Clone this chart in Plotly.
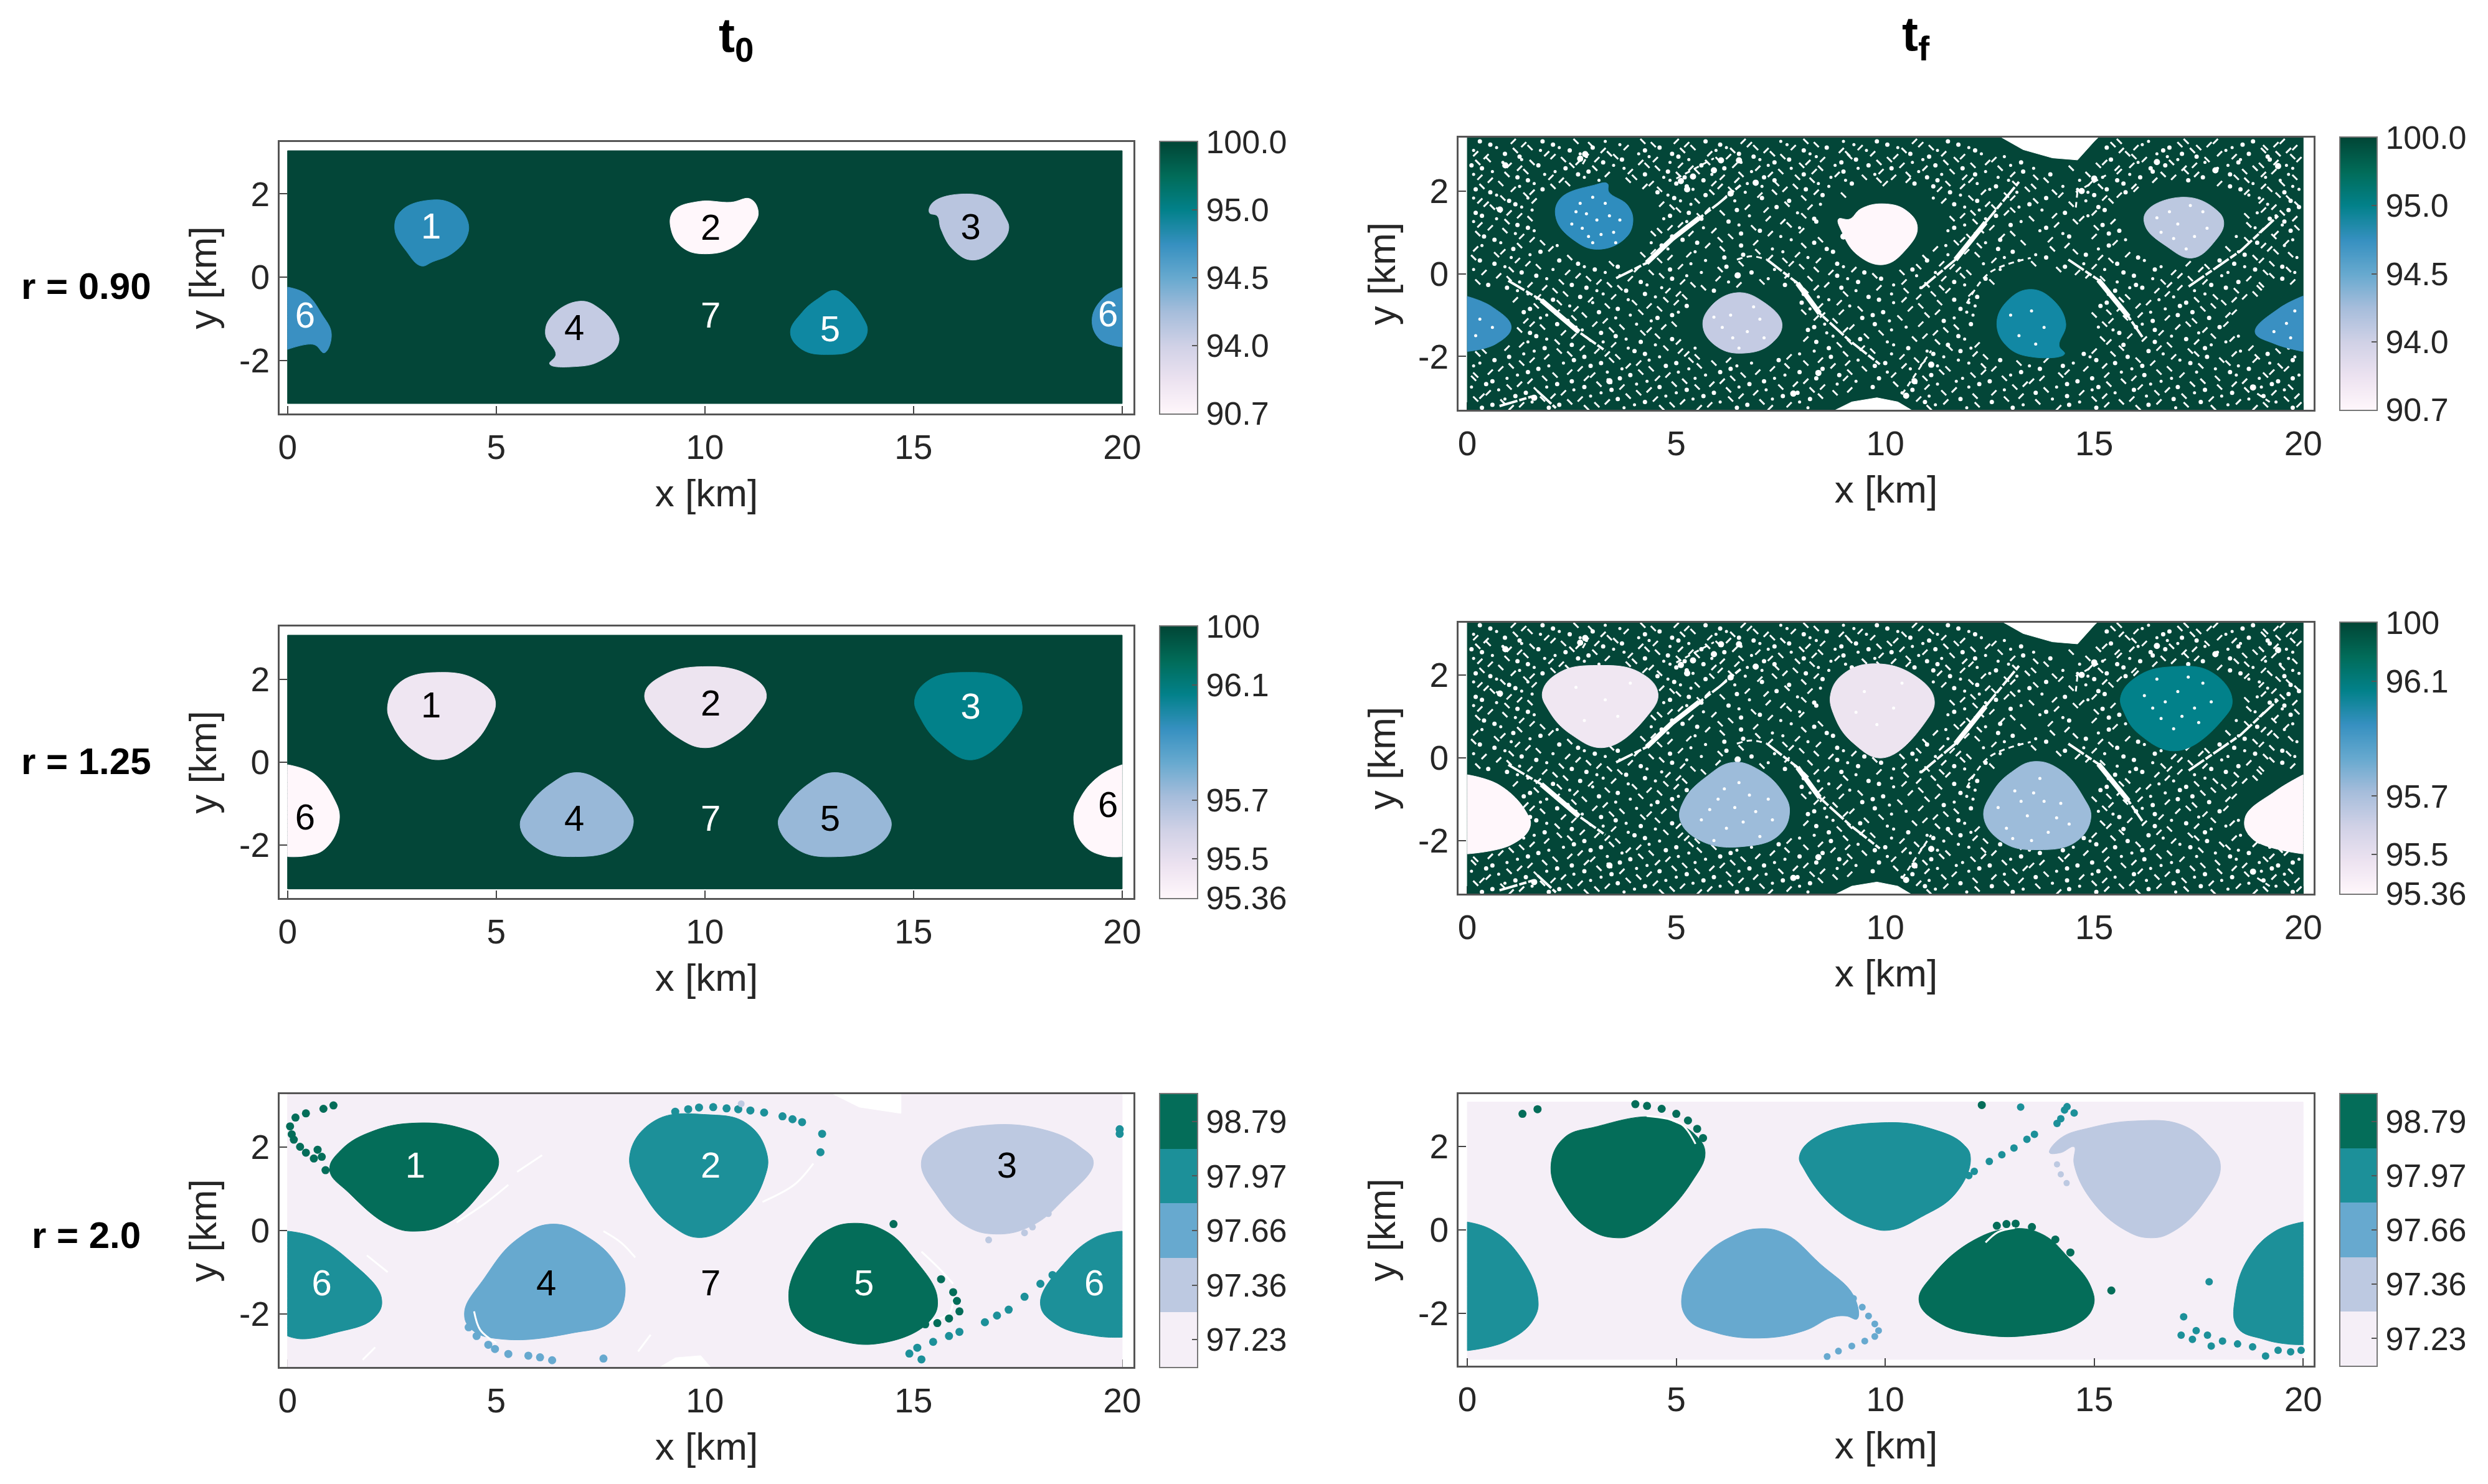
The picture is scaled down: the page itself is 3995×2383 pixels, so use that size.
import plotly.graph_objects as go

# ========== page geometry (browser body keeps its 8px margin) ==========
PAGE_W, PAGE_H = 3995, 2383
BODY = 8

# ========== colours ==========
DARK = "#034638"
TXT = "#262626"
PU_STOPS = ["#fff7fb", "#ece2f0", "#d0d1e6", "#a6bddb", "#67a9cf", "#3690c0", "#02818a", "#016c59", "#014636"]
C5 = ["#f5eff7", "#bdc9e1", "#67a9cf", "#1c9099", "#046d59"]

# ========== colourbar labels ==========
CB1_LABELS = ["90.7", "94.0", "94.5", "95.0", "100.0"]
CB1_POS = [0.0, 0.25, 0.5, 0.75, 1.0]
CB2_LABELS = ["95.36", "95.5", "95.7", "96.1", "100"]
CB2_POS = [0.0, 0.145, 0.36, 0.785, 1.0]
CB3_LABELS = ["97.23", "97.36", "97.66", "97.97", "98.79"]
CB3_POS = [0.1, 0.3, 0.5, 0.7, 0.9]
CB_LEVELS = [0.0, 0.125, 0.25, 0.375, 0.5, 0.625, 0.75, 0.875, 1.0]

# ========== r = 0.90, t0 ==========
A_SHAPES = [
    [(3.39, 1.85), (3.96, 1.76), (4.30, 1.39), (4.30, 0.98), (3.96, 0.58), (3.48, 0.37), (3.20, 0.27), (2.85, 0.62), (2.57, 1.15), (2.72, 1.59)],
    [(9.86, 1.82), (10.62, 1.80), (11.09, 1.88), (11.28, 1.55), (11.09, 1.15), (10.71, 0.74), (10.05, 0.56), (9.48, 0.70), (9.19, 1.15), (9.25, 1.59)],
    [(16.23, 2.0), (16.9, 1.84), (17.18, 1.47), (17.28, 1.15), (16.99, 0.70), (16.42, 0.41), (15.95, 0.66), (15.66, 1.15), (15.57, 1.47), (15.38, 1.55), (15.47, 1.80)],
    [(7.0, -0.58), (7.48, -0.76), (7.86, -1.21), (7.92, -1.62), (7.48, -2.02), (6.91, -2.15), (6.28, -2.09), (6.43, -1.86), (6.18, -1.37), (6.34, -0.93)],
    [(13.09, -0.32), (13.38, -0.48), (13.76, -0.93), (13.89, -1.33), (13.57, -1.74), (13.0, -1.86), (12.33, -1.74), (12.05, -1.33), (12.33, -0.85), (12.71, -0.52)],
    [(0, -0.24), (0, -0.24), (0.44, -0.40), (0.82, -0.89), (1.05, -1.37), (0.88, -1.82), (0.63, -1.62), (0, -1.74), (0, -1.74)],
    [(20, -0.25), (20, -0.25), (19.57, -0.48), (19.28, -1.0), (19.47, -1.5), (20, -1.68), (20, -1.68)],
]
A_COLORS = ["#2b8bb8", "#fff7fb", "#b9c5df", "#c4cbe3", "#0f88a2", "#3a90c2", "#3a90c2"]
A_LABEL_X = [3.44, 10.14, 16.37, 6.87, 13.0, 0.42, 19.66, 10.14]
A_LABEL_Y = [1.15, 1.12, 1.13, -1.29, -1.33, -0.99, -0.97, -0.99]
A_LABEL_TEXT = ["1", "2", "3", "4", "5", "6", "6", "7"]
A_LABEL_COLORS = ["white", "black", "black", "black", "white", "white", "white", "white"]

# ========== r = 0.90, tf ==========
B_SHAPES = [
    [(3.03, 2.14), (3.35, 2.18), (3.39, 1.97), (3.84, 1.65), (3.96, 1.24), (3.75, 0.83), (3.12, 0.59), (2.58, 0.79), (2.13, 1.32), (2.22, 1.81)],
    [(9.96, 1.69), (10.5, 1.53), (10.77, 1.12), (10.5, 0.59), (9.96, 0.22), (9.33, 0.46), (8.97, 1.0), (8.88, 1.32), (9.15, 1.32), (9.42, 1.57)],
    [(17.17, 1.85), (17.89, 1.57), (18.1, 1.24), (17.89, 0.79), (17.35, 0.38), (16.72, 0.67), (16.22, 1.16), (16.27, 1.53)],
    [(6.45, -0.46), (7.08, -0.68), (7.53, -1.21), (7.26, -1.70), (6.63, -1.92), (6.0, -1.78), (5.64, -1.29), (5.82, -0.8)],
    [(13.48, -0.38), (14.02, -0.64), (14.32, -1.21), (14.16, -1.74), (14.29, -1.94), (13.57, -2.02), (12.94, -1.78), (12.67, -1.21), (12.94, -0.64)],
    [(0, -0.55), (0, -0.55), (0.59, -0.8), (1.05, -1.29), (0.68, -1.70), (0, -1.88), (0, -1.88)],
    [(20, -0.54), (20, -0.54), (19.42, -0.84), (18.85, -1.41), (19.33, -1.70), (20, -1.88), (20, -1.88)],
]
B_COLORS = ["#2f8dbe", "#fff7fb", "#bcc8e0", "#c4cbe3", "#1288a4", "#3a90c2", "#3a90c2"]

# ========== r = 1.25, t0 ==========
C_SHAPES = [
    [(3.67, 2.17), (4.53, 1.99), (4.97, 1.52), (4.81, 0.94), (4.34, 0.37), (3.63, 0.06), (3.0, 0.3), (2.53, 0.87), (2.4, 1.38), (2.72, 1.95)],
    [(9.95, 2.31), (11.0, 2.13), (11.47, 1.66), (11.19, 1.09), (10.62, 0.58), (10.01, 0.35), (9.38, 0.58), (8.81, 1.12), (8.56, 1.66), (9.0, 2.1)],
    [(16.23, 2.17), (17.18, 1.99), (17.6, 1.38), (17.37, 0.8), (16.42, 0.06), (15.66, 0.44), (15.19, 1.02), (15.03, 1.52), (15.38, 1.99)],
    [(6.91, -0.25), (7.57, -0.5), (8.14, -1.07), (8.28, -1.51), (7.86, -2.08), (6.91, -2.28), (6.05, -2.12), (5.58, -1.58), (5.77, -1.07), (6.34, -0.5)],
    [(13.09, -0.25), (13.76, -0.5), (14.33, -1.15), (14.46, -1.58), (14.04, -2.08), (13.19, -2.28), (12.24, -2.12), (11.76, -1.51), (11.95, -1.07), (12.52, -0.5)],
    [(0, -0.06), (0, -0.06), (0.63, -0.28), (1.1, -0.86), (1.24, -1.4), (0.91, -2.08), (0.44, -2.26), (0, -2.28), (0, -2.28)],
    [(20, -0.06), (20, -0.06), (19.47, -0.32), (19.0, -0.86), (18.84, -1.4), (19.09, -2.01), (19.57, -2.26), (20, -2.28), (20, -2.28)],
]
C_COLORS = ["#efe6f2", "#ede4f0", "#02818a", "#98b8d8", "#98b8d8", "#fff7fb", "#fff7fb"]
C_LABEL_X = [3.44, 10.14, 16.37, 6.87, 13.0, 0.42, 19.66, 10.14]
C_LABEL_Y = [1.3, 1.34, 1.27, -1.43, -1.43, -1.4, -1.11, -1.43]
C_LABEL_TEXT = ["1", "2", "3", "4", "5", "6", "6", "7"]
C_LABEL_COLORS = ["black", "black", "white", "black", "black", "black", "black", "white"]

# ========== r = 1.25, tf ==========
D_SHAPES = [
    [(3.12, 2.23), (4.11, 2.07), (4.56, 1.57), (4.29, 0.99), (3.3, 0.25), (2.49, 0.56), (1.95, 1.14), (1.8, 1.6), (2.22, 2.07)],
    [(9.78, 2.27), (10.68, 2.0), (11.17, 1.42), (10.95, 0.85), (9.96, 0.0), (9.24, 0.35), (8.79, 0.99), (8.7, 1.57), (9.06, 2.07)],
    [(16.9, 2.2), (17.8, 2.07), (18.3, 1.42), (18.07, 0.92), (16.99, 0.17), (16.09, 0.56), (15.73, 1.06), (15.64, 1.5), (16.09, 2.0)],
    [(6.36, -0.11), (6.99, -0.3), (7.53, -0.81), (7.71, -1.31), (7.44, -1.88), (6.63, -2.14), (5.64, -2.03), (5.1, -1.53), (5.19, -1.02), (5.73, -0.45)],
    [(13.57, -0.09), (14.2, -0.3), (14.74, -0.95), (14.92, -1.45), (14.56, -2.03), (13.66, -2.22), (12.85, -2.06), (12.36, -1.45), (12.58, -0.81), (13.03, -0.34)],
    [(0, -0.41), (0, -0.41), (0.77, -0.66), (1.41, -1.31), (1.5, -1.67), (1.05, -2.1), (0, -2.32), (0, -2.32)],
    [(20, -0.41), (20, -0.41), (19.33, -0.81), (18.61, -1.45), (18.79, -1.96), (20, -2.32), (20, -2.32)],
]
D_COLORS = ["#f0e7f2", "#ede4f0", "#02818a", "#9dbcda", "#9dbcda", "#fff7fb", "#fff7fb"]

# ========== r = 2.0, t0 ==========
E_SHAPES = [
    [(3.1, 2.57), (4.15, 2.45), (4.72, 2.17), (5.06, 1.65), (4.62, 0.89), (3.86, 0.19), (3.1, -0.02), (2.44, 0.12), (1.48, 0.89), (1.01, 1.44), (1.29, 1.93), (2.06, 2.38)],
    [(10.05, 2.77), (11.0, 2.56), (11.48, 1.86), (11.42, 1.23), (10.9, 0.4), (9.95, -0.17), (9.19, 0.12), (8.53, 0.89), (8.2, 1.79), (8.81, 2.63)],
    [(16.8, 2.52), (18.23, 2.38), (18.99, 2.0), (19.31, 1.62), (18.61, 0.75), (17.85, 0.12), (16.99, -0.09), (16.23, 0.12), (15.57, 0.82), (15.19, 1.65), (15.66, 2.21)],
    [(6.34, 0.15), (7.19, -0.16), (7.86, -0.79), (8.09, -1.48), (7.76, -2.18), (6.81, -2.46), (5.2, -2.61), (4.43, -2.39), (4.24, -1.97), (4.72, -1.14), (5.48, -0.23)],
    [(13.57, 0.17), (14.33, -0.02), (14.99, -0.65), (15.57, -1.62), (15.38, -2.18), (14.23, -2.7), (13.09, -2.6), (12.24, -2.18), (12.01, -1.52), (12.43, -0.51), (12.9, -0.02)],
    [(0, -0.02), (0, -0.02), (0.63, -0.16), (1.48, -0.72), (2.25, -1.62), (2.06, -2.11), (1.1, -2.46), (0.34, -2.6), (0, -2.53), (0, -2.53)],
    [(20, -0.02), (20, -0.02), (19.37, -0.16), (18.61, -0.79), (18.04, -1.76), (18.42, -2.25), (19.37, -2.53), (20, -2.56), (20, -2.56)],
]
E_COLORS = [C5[4], C5[3], C5[1], C5[2], C5[4], C5[3], C5[3]]
E_LABEL_X = [3.06, 10.14, 17.24, 6.2, 13.81, 0.82, 19.33, 10.14]
E_LABEL_Y = [1.48, 1.48, 1.48, -1.34, -1.34, -1.34, -1.34, -1.34]
E_LABEL_TEXT = ["1", "2", "3", "4", "5", "6", "6", "7"]
E_LABEL_COLORS = ["white", "white", "black", "black", "white", "white", "white", "black"]
E_DOTS_DARK = [(1.1, 2.99), (0.86, 2.91), (0.44, 2.8), (0.19, 2.7), (0.06, 2.49), (0.1, 2.3), (0.15, 2.17), (0.3, 2.0), (0.44, 1.86), (0.72, 1.93), (0.82, 1.76), (0.63, 1.72), (0.91, 1.44),
               (14.52, 0.15), (15.66, -1.17), (15.95, -1.48), (16.04, -1.69), (16.1, -1.94), (15.85, -2.11), (15.57, -2.22), (15.28, -2.25)]
E_DOTS_TEAL = [(9.29, 2.84), (9.6, 2.9), (9.86, 2.94), (10.2, 2.95), (10.52, 2.92), (10.8, 2.9), (11.09, 2.87), (11.42, 2.82), (11.86, 2.73), (12.1, 2.66), (12.33, 2.59), (12.81, 2.31), (12.77, 1.87),
               (16.71, -2.2), (17.0, -2.04), (17.28, -1.9), (17.66, -1.59), (18.04, -1.28), (18.33, -1.07), (16.1, -2.43), (15.85, -2.53), (15.47, -2.67), (15.09, -2.81), (14.9, -2.95), (15.19, -3.09), (19.94, 2.42), (19.94, 2.31)]
E_DOTS_BLUE = [(4.34, -2.32), (4.53, -2.53), (4.81, -2.74), (4.97, -2.84), (5.29, -2.96), (5.77, -3.0), (6.05, -3.04), (6.34, -3.11), (7.57, -3.07)]
E_DOTS_LILAC = [(16.8, -0.23), (17.66, -0.06), (17.85, 0.08), (18.23, 0.4), (10.87, 3.03)]
E_WHITE_LINES = [
    [(4.05, 0.19), (4.7, 0.62), (5.29, 1.09)],
    [(5.5, 1.4), (6.1, 1.8)],
    [(11.38, 0.68), (12.14, 1.09), (12.6, 1.6)],
    [(15.19, -0.51), (15.6, -0.9), (15.95, -1.28)],
    [(7.57, -0.02), (8.0, -0.3), (8.33, -0.65)],
    [(4.47, -1.94), (4.62, -2.39), (5.0, -2.7)],
    [(15.95, -1.6), (15.85, -2.0), (15.2, -2.2)],
    [(1.9, -0.6), (2.4, -1.0)],
    [(17.9, 0.4), (18.4, 0.9)],
    [(8.4, -2.9), (8.7, -2.5)],
    [(1.8, -3.1), (2.1, -2.8)],
]
E_GAP_TOP = [(12.9, 3.35), (13.7, 2.95), (14.7, 2.8), (14.7, 3.35)]
E_GAP_BOT = [(8.8, -3.35), (9.3, -3.05), (9.9, -3.0), (10.2, -3.35)]

# ========== r = 2.0, tf ==========
F_SHAPES = [
    [(4.38, 2.71), (5.0, 2.55), (5.46, 2.27), (5.69, 1.85), (5.37, 1.15), (4.65, 0.31), (4.02, -0.1), (3.57, -0.19), (2.94, 0.0), (2.31, 0.66), (2.0, 1.5), (2.31, 2.2), (3.12, 2.48)],
    [(10.05, 2.57), (11.14, 2.41), (11.86, 2.06), (12.04, 1.71), (11.68, 0.87), (10.86, 0.31), (10.14, 0.0), (9.6, 0.07), (8.79, 0.52), (8.07, 1.43), (7.95, 1.78), (8.43, 2.27)],
    [(16.0, 2.61), (17.08, 2.52), (17.71, 2.06), (18.02, 1.54), (17.62, 0.66), (16.9, -0.03), (16.36, -0.19), (15.73, 0.0), (14.92, 0.73), (14.52, 1.57), (14.52, 1.99), (14.2, 1.85), (13.93, 1.85), (14.2, 2.2), (14.92, 2.45)],
    [(6.99, 0.03), (7.62, -0.1), (8.43, -0.8), (9.24, -1.57), (9.33, -2.13), (9.06, -2.06), (8.7, -2.1), (8.07, -2.41), (6.99, -2.59), (5.91, -2.45), (5.27, -2.13), (5.14, -1.54), (5.64, -0.66), (6.36, -0.14)],
    [(13.03, 0.03), (13.75, -0.1), (14.38, -0.66), (14.92, -1.36), (14.97, -1.85), (14.56, -2.27), (13.48, -2.52), (12.4, -2.52), (11.32, -2.24), (10.81, -1.71), (11.14, -1.08), (12.13, -0.24)],
    [(0, 0.19), (0, 0.19), (0.59, 0.0), (1.23, -0.59), (1.68, -1.57), (1.59, -2.13), (0.95, -2.66), (0, -2.89), (0, -2.89)],
    [(20, 0.19), (20, 0.19), (19.33, -0.03), (18.7, -0.66), (18.38, -1.57), (18.43, -2.34), (19.06, -2.62), (19.6, -2.73), (20, -2.75), (20, -2.75)],
]
F_COLORS = [C5[4], C5[3], C5[1], C5[2], C5[4], C5[3], C5[3]]
F_DOTS_DARK = [(4.02, 3.01), (4.3, 2.97), (4.65, 2.9), (5.0, 2.78), (5.28, 2.62), (5.5, 2.42), (5.64, 2.2), (1.32, 2.78), (1.68, 2.89), (12.31, 2.99),
               (12.67, 0.1), (12.9, 0.14), (13.12, 0.15), (13.51, 0.07), (14.07, -0.23), (14.43, -0.54), (15.41, -1.45)]
F_DOTS_TEAL = [(11.77, 1.15), (12.0, 1.3), (12.13, 1.4), (12.49, 1.64), (12.79, 1.8), (13.08, 1.96), (13.39, 2.17), (13.57, 2.29), (14.11, 2.55), (14.29, 2.87), (14.52, 2.8), (14.2, 2.66), (14.35, 2.95), (13.24, 2.94), (17.75, -1.24),
               (17.14, -2.08), (17.08, -2.52), (17.35, -2.62), (17.44, -2.41), (17.71, -2.52), (17.8, -2.78), (18.07, -2.66), (18.43, -2.73), (18.79, -2.8), (19.1, -3.02), (19.4, -2.88), (19.7, -2.92), (19.95, -2.88)]
F_DOTS_BLUE = [(9.24, -1.64), (9.45, -1.85), (9.6, -2.06), (9.75, -2.25), (9.84, -2.41), (9.75, -2.55), (9.51, -2.66), (9.2, -2.78), (8.88, -2.9), (8.61, -3.03)]
F_DOTS_LILAC = [(14.11, 1.57), (14.2, 1.33), (14.34, 1.12)]
F_WHITE_LINES = [
    [(4.29, 2.73), (5.1, 2.55), (5.46, 2.06)],
    [(12.4, -0.3), (12.7, -0.05), (13.1, 0.05)],
]

# ========== shared speckle of the two tf panels (white gaps between particles) ==========
TF_GAP_TOP = [(12.6, 3.4), (13.3, 3.0), (14.0, 2.8), (14.6, 2.75), (15.0, 3.2), (15.2, 3.4)]
TF_GAP_BOT = [(8.6, -3.4), (9.2, -3.1), (9.8, -3.0), (10.3, -3.1), (10.8, -3.4)]
TF_STREAKS_STRONG = [
    [(3.56, -0.11), (4.29, 0.26), (4.9, 0.84), (5.55, 1.35), (6.0, 1.69), (6.54, 2.14)],
    [(10.86, -0.35), (11.68, 0.34), (12.4, 1.24), (13.2, 2.22)],
    [(17.26, -0.31), (18.5, 0.55), (19.4, 1.4)],
    [(0.98, -0.17), (1.77, -0.64), (2.67, -1.41), (3.3, -1.86)],
    [(7.17, 0.34), (7.9, -0.23), (8.43, -0.96), (9.15, -1.62), (9.87, -2.19)],
    [(14.38, 0.34), (15.1, -0.15), (15.82, -1.04), (16.18, -1.57)],
    [(1.68, -2.84), (2.12, -3.25)],
    [(0.77, -3.2), (1.58, -2.96)],
]
TF_STREAK_CORES = [
    [(4.29, 0.26), (4.9, 0.84), (5.55, 1.35)],
    [(11.68, 0.34), (12.4, 1.24)],
    [(15.1, -0.15), (15.82, -1.04)],
    [(1.77, -0.64), (2.67, -1.41)],
    [(7.9, -0.23), (8.43, -0.96)],
]
TF_STREAKS_WEAK = [
    [(6.45, 0.34), (6.8, 0.42), (7.17, 0.34)],
    [(11.95, -0.72), (12.49, 0.02), (13.48, 0.38)],
    [(14.56, 1.97), (15.28, 2.38)],
    [(5.0, 2.3), (5.9, 2.79)],
    [(10.4, -2.92), (11.1, -1.86)],
    [(14.56, 1.6), (14.6, 2.0)],
    [(2.76, 2.65), (2.9, 2.9)],
    [(18.9, -2.9), (19.2, -3.1)],
]
TF_CLUMPS = [(2.82, 2.89), (2.7, 2.78), (0.91, 2.62), (5.11, 2.24), (5.26, 2.04), (5.4, 2.35), (6.07, 2.74), (6.5, 2.74), (6.3, 1.94), (0.78, 1.55), (6.47, -0.04), (6.9, 2.2), (5.9, 2.5),
             (14.7, 2.0), (15.0, 2.3), (16.5, 2.7), (17.9, 2.5), (19.4, 2.6), (1.6, -3.0), (10.7, -2.6), (11.1, -2.2), (10.5, -2.95), (8.4, -2.4), (18.8, -2.75), (9.0, 0.9), (7.8, -2.9), (3.4, -2.6)]
SPECK_ROW_Y = [3.2, 3.05, 2.9, 2.76, 2.62, 2.47, 2.33, 2.18, 2.04, 1.9, 1.76, 1.61, 1.47, 1.33, 1.18, 1.04, 0.9, 0.75, 0.6, 0.46, 0.32, 0.17, 0.03,
               -0.12, -0.27, -0.41, -0.56, -0.7, -0.85, -1.0, -1.14, -1.29, -1.43, -1.58, -1.72, -1.87, -2.01, -2.16, -2.3, -2.45, -2.6, -2.74, -2.88, -3.03, -3.17]
SPECK_ROW_X = [
    [0.3, 1.1, 1.8, 2.6, 3.3, 4.2, 5.0, 5.7, 6.6, 7.5, 8.1, 9.0, 9.8, 10.7, 11.5, 15.6, 16.3, 17.2, 17.9, 18.8, 19.5],
    [0.7, 1.5, 2.2, 3.0, 3.8, 4.6, 5.4, 6.2, 6.9, 7.8, 8.6, 9.4, 10.3, 11.1, 12.0, 15.3, 16.0, 16.8, 17.5, 18.3, 19.1, 19.8],
    [0.2, 0.9, 1.9, 2.7, 3.4, 4.1, 4.9, 5.8, 6.5, 7.3, 8.2, 9.1, 9.7, 10.6, 11.4, 12.3, 15.8, 16.5, 17.1, 18.0, 18.7, 19.4],
    [0.5, 1.3, 2.3, 3.1, 3.7, 4.5, 5.3, 6.0, 7.0, 7.7, 8.5, 9.3, 10.1, 10.9, 11.7, 12.6, 15.4, 16.2, 17.0, 17.7, 18.5, 19.2, 19.9],
    [0.1, 1.0, 1.7, 2.5, 3.5, 4.3, 5.1, 5.6, 6.4, 7.2, 8.0, 8.8, 9.6, 10.4, 11.2, 12.1, 13.0, 15.1, 15.9, 16.7, 17.4, 18.2, 19.0, 19.6],
    [0.6, 1.4, 2.1, 2.9, 3.9, 4.8, 5.5, 6.8, 7.5, 8.3, 9.0, 9.9, 10.8, 11.6, 12.4, 13.3, 15.6, 16.4, 17.2, 17.9, 18.6, 19.3],
    [0.3, 1.2, 2.0, 2.8, 4.0, 4.7, 5.2, 6.1, 7.1, 7.9, 8.7, 9.5, 10.2, 11.0, 11.9, 12.7, 13.6, 15.2, 16.1, 16.9, 17.6, 18.4, 19.1, 19.8],
    [0.8, 1.6, 2.4, 4.4, 5.0, 5.9, 6.7, 7.4, 8.4, 9.2, 10.0, 10.7, 11.5, 12.2, 13.1, 14.9, 15.7, 18.0, 18.8, 19.5],
    [0.2, 1.1, 1.8, 4.6, 5.4, 6.3, 7.6, 8.1, 11.3, 12.5, 13.4, 14.6, 15.3, 16.0, 18.5, 19.2, 19.9],
    [0.7, 1.4, 4.8, 5.7, 7.0, 8.5, 9.0, 11.8, 12.9, 14.2, 15.0, 15.6, 18.7, 19.4],
    [0.3, 1.0, 1.6, 5.1, 5.5, 6.4, 7.7, 11.4, 12.2, 13.6, 14.8, 15.4, 19.0, 19.7],
    [0.6, 1.3, 4.9, 6.7, 7.4, 8.2, 11.9, 12.6, 13.2, 15.1, 19.3, 19.9],
    [0.2, 1.0, 5.3, 6.1, 7.9, 12.1, 12.9, 14.3, 15.0, 18.9, 19.5],
    [0.7, 1.5, 4.7, 5.6, 7.2, 8.3, 11.6, 12.4, 13.5, 14.7, 19.2, 19.8],
    [0.3, 1.2, 5.1, 6.5, 7.7, 11.9, 13.0, 14.1, 15.2, 18.7, 19.5],
    [0.9, 1.6, 4.6, 5.9, 7.0, 8.0, 11.5, 12.3, 13.7, 15.6, 19.0, 19.7],
    [0.4, 1.3, 4.9, 6.3, 7.5, 12.0, 12.8, 14.4, 15.0, 18.4, 19.3],
    [0.8, 1.8, 4.4, 5.5, 6.9, 8.3, 11.7, 12.4, 13.3, 15.5, 18.9, 19.6],
    [0.2, 1.1, 2.0, 4.8, 6.1, 7.3, 8.6, 11.2, 12.7, 14.0, 15.1, 18.2, 19.2],
    [0.7, 1.5, 4.2, 5.3, 6.6, 7.9, 11.5, 12.2, 13.6, 14.8, 15.8, 18.6, 19.7],
    [0.3, 1.2, 2.2, 4.6, 5.7, 7.6, 8.4, 11.0, 12.6, 13.2, 15.4, 16.2, 18.0, 19.0],
    [0.9, 1.7, 2.8, 3.6, 5.1, 6.2, 8.0, 9.0, 10.8, 11.6, 14.3, 15.0, 16.6, 17.7, 18.6, 19.5],
    [0.4, 1.3, 2.4, 3.3, 4.4, 5.6, 6.8, 8.7, 9.5, 10.4, 11.2, 12.0, 14.6, 15.7, 16.9, 18.2, 19.1, 19.8],
    [1.0, 1.9, 2.9, 3.9, 4.9, 6.0, 7.2, 8.2, 9.1, 9.9, 11.4, 12.4, 15.2, 16.4, 17.3, 18.7, 19.5],
    [0.5, 1.5, 2.5, 3.4, 4.3, 5.4, 6.5, 7.6, 8.6, 10.2, 11.0, 11.9, 16.0, 16.8, 17.8, 19.0],
    [1.2, 2.1, 3.1, 3.8, 4.8, 5.9, 8.1, 9.3, 10.5, 11.5, 15.5, 16.5, 17.4, 18.4],
    [1.7, 2.7, 3.5, 4.5, 5.2, 8.4, 9.6, 10.8, 12.2, 15.8, 16.9, 17.9, 18.6],
    [2.2, 3.0, 4.0, 5.0, 8.0, 8.9, 10.2, 11.3, 12.0, 15.3, 16.3, 17.2, 18.1],
    [1.5, 2.6, 3.6, 4.6, 8.2, 9.4, 10.6, 11.8, 15.6, 16.7, 17.6],
    [1.9, 2.8, 3.9, 4.9, 8.5, 9.7, 11.0, 12.1, 15.0, 16.1, 17.0, 18.2],
    [1.4, 2.4, 3.3, 4.4, 8.8, 10.1, 11.4, 15.4, 16.4, 17.4],
    [1.8, 2.6, 3.7, 4.7, 8.3, 9.2, 10.5, 11.7, 15.1, 16.0, 17.0, 18.0],
    [1.5, 2.3, 3.2, 4.2, 8.6, 9.9, 11.2, 15.6, 16.6, 17.5],
    [1.9, 2.9, 3.8, 4.9, 8.1, 9.4, 10.7, 11.9, 15.2, 16.2, 17.2, 18.3],
    [1.3, 2.5, 3.5, 4.5, 8.9, 10.2, 11.5, 12.2, 15.7, 16.8, 17.8],
    [0.4, 1.6, 2.2, 3.1, 4.0, 5.1, 8.3, 9.7, 11.0, 11.8, 15.0, 16.3, 17.3, 18.5, 19.4],
    [1.0, 1.9, 2.8, 3.6, 4.6, 5.5, 7.7, 8.7, 10.4, 11.4, 12.4, 14.9, 15.8, 16.9, 17.7, 18.9, 19.8],
    [0.3, 1.3, 2.3, 3.2, 4.1, 5.0, 5.9, 6.8, 8.1, 9.1, 10.0, 10.9, 12.0, 13.2, 14.5, 15.5, 16.4, 17.3, 18.2, 19.2],
    [0.8, 1.7, 2.7, 3.7, 4.4, 5.3, 6.3, 7.3, 8.5, 9.5, 10.6, 11.5, 12.6, 13.7, 14.8, 15.9, 16.8, 17.9, 18.7, 19.6],
    [0.2, 1.2, 2.1, 3.0, 3.9, 4.8, 5.7, 6.6, 7.6, 8.9, 10.2, 11.1, 12.1, 13.0, 14.2, 15.3, 16.2, 17.1, 18.4, 19.1, 19.9],
    [0.6, 1.5, 2.5, 3.4, 4.3, 5.2, 6.1, 7.1, 8.1, 9.3, 10.7, 11.7, 12.5, 13.5, 14.6, 15.7, 16.6, 17.6, 18.6, 19.4],
    [0.1, 1.0, 1.9, 2.8, 3.7, 4.6, 5.5, 6.5, 7.5, 8.5, 9.7, 11.0, 12.0, 13.1, 14.1, 15.1, 16.1, 17.0, 18.0, 19.0, 19.7],
    [0.5, 1.4, 2.3, 3.2, 4.1, 5.0, 5.9, 6.9, 7.9, 8.8, 10.4, 11.4, 12.6, 13.6, 14.7, 15.5, 16.5, 17.4, 18.3, 19.3],
    [0.2, 0.9, 1.8, 2.7, 3.6, 4.5, 5.4, 6.3, 7.3, 8.2, 10.8, 11.8, 12.9, 14.0, 15.0, 15.9, 16.9, 17.8, 18.7, 19.6],
    [0.6, 1.3, 2.2, 3.1, 4.0, 4.9, 5.8, 6.7, 7.7, 11.2, 12.2, 13.3, 14.4, 15.3, 16.3, 17.2, 18.2, 19.1, 19.9],
]
SPECK2_ROW_Y = [3.12, 2.98, 2.83, 2.69, 2.55, 2.4, 2.26, 2.11, 1.97, 1.83, 1.68, 1.54, 1.4, 1.26, 1.11, 0.97, 0.82, 0.68, 0.53, 0.39, 0.24, 0.1, -0.05,
                -0.2, -0.34, -0.49, -0.63, -0.78, -0.93, -1.07, -1.22, -1.36, -1.51, -1.65, -1.8, -1.94, -2.09, -2.23, -2.38, -2.53, -2.67, -2.81, -2.96, -3.1, -3.24]
SPECK2_ROW_X = [
    [0.55, 1.35, 2.05, 2.95, 3.65, 4.45, 5.25, 6.05, 6.75, 7.65, 8.35, 9.25, 10.05, 10.85, 11.75, 15.45, 16.15, 17.05, 17.75, 18.55, 19.35],
    [0.15, 1.15, 1.75, 2.45, 3.25, 4.25, 5.15, 5.95, 6.35, 7.15, 8.05, 8.95, 9.55, 10.45, 11.25, 12.15, 15.65, 16.65, 17.35, 18.15, 19.05, 19.65],
    [0.45, 1.25, 2.05, 2.85, 3.55, 4.35, 5.05, 6.25, 6.85, 7.55, 8.35, 9.15, 10.25, 11.05, 11.85, 12.85, 15.95, 16.75, 17.45, 18.35, 19.15, 19.75],
    [0.25, 0.85, 1.55, 2.65, 3.25, 4.15, 4.85, 5.75, 6.55, 7.35, 8.15, 8.95, 9.85, 10.65, 11.45, 12.45, 13.25, 15.25, 16.05, 16.85, 17.65, 18.45, 19.35],
    [0.35, 1.25, 2.35, 3.05, 3.75, 4.55, 5.35, 6.15, 6.95, 7.75, 8.45, 9.35, 10.15, 10.95, 11.85, 12.75, 13.55, 14.45, 15.55, 16.35, 17.15, 17.95, 18.85, 19.75],
    [0.15, 0.95, 1.85, 2.65, 3.35, 4.25, 5.05, 5.85, 6.55, 7.25, 8.05, 8.85, 9.75, 10.55, 11.35, 12.15, 13.05, 13.95, 14.85, 15.85, 16.65, 17.45, 18.25, 19.05, 19.65],
    [0.55, 1.45, 2.25, 3.15, 3.85, 4.85, 5.65, 6.45, 7.35, 8.25, 9.05, 9.85, 10.55, 11.25, 12.05, 12.95, 13.85, 14.65, 15.55, 16.45, 17.25, 18.65, 19.45],
    [0.35, 1.25, 2.05, 4.25, 5.25, 6.05, 7.05, 7.85, 8.65, 11.15, 11.85, 12.65, 13.55, 14.25, 15.15, 15.95, 18.25, 19.05, 19.75],
    [0.55, 1.55, 4.55, 5.85, 6.65, 7.35, 8.35, 11.55, 12.35, 13.15, 14.05, 14.85, 15.75, 18.65, 19.55],
    [0.15, 0.85, 1.45, 4.95, 6.15, 7.05, 8.05, 11.15, 12.05, 13.05, 13.85, 15.25, 18.95, 19.65],
    [0.45, 1.15, 4.65, 5.35, 7.65, 8.45, 11.65, 12.45, 13.45, 14.45, 19.15, 19.85],
    [0.75, 1.55, 5.05, 5.75, 6.45, 7.15, 12.25, 13.05, 13.75, 15.25, 19.05, 19.65],
    [0.35, 1.25, 4.85, 5.55, 6.75, 8.05, 11.85, 12.65, 14.05, 14.85, 18.65, 19.35],
    [0.15, 0.95, 5.25, 6.25, 7.55, 8.35, 12.15, 13.25, 14.55, 15.45, 19.55],
    [0.55, 1.45, 4.85, 5.65, 6.85, 7.95, 11.65, 12.55, 13.85, 15.05, 18.85, 19.85],
    [0.25, 1.15, 4.45, 5.35, 6.55, 7.25, 12.15, 13.05, 14.25, 15.35, 19.35],
    [0.65, 1.55, 5.15, 6.05, 7.75, 8.45, 11.85, 12.75, 13.95, 15.75, 18.65, 19.75],
    [0.35, 1.25, 2.15, 4.65, 5.75, 6.55, 8.05, 11.45, 12.25, 14.35, 15.35, 19.05, 19.55],
    [0.85, 1.75, 4.45, 5.45, 6.95, 7.55, 8.75, 11.95, 13.05, 14.55, 18.45, 19.35],
    [0.15, 1.05, 2.45, 4.85, 6.15, 7.25, 8.15, 10.95, 12.85, 13.85, 15.15, 16.05, 18.85, 19.85],
    [0.65, 1.45, 2.65, 3.45, 5.35, 6.55, 7.75, 8.85, 11.35, 12.35, 13.55, 14.75, 15.55, 17.25, 18.35, 19.25],
    [0.15, 1.05, 2.05, 3.05, 4.05, 4.85, 6.05, 7.35, 8.35, 9.25, 10.65, 11.75, 12.75, 14.15, 15.25, 16.45, 17.55, 18.85, 19.65],
    [0.75, 1.65, 2.65, 3.65, 4.65, 5.25, 6.45, 7.65, 8.85, 9.75, 10.75, 11.85, 14.85, 15.95, 17.05, 18.05, 19.25],
    [0.25, 1.25, 2.25, 3.15, 4.15, 5.15, 6.25, 7.05, 7.85, 9.35, 10.45, 11.65, 12.55, 15.55, 16.65, 17.65, 18.45, 19.75],
    [0.95, 1.85, 2.85, 3.65, 4.65, 5.65, 8.35, 8.95, 9.85, 10.85, 11.35, 15.85, 16.15, 17.05, 18.15, 18.95],
    [1.45, 2.35, 3.25, 4.25, 5.05, 8.05, 9.05, 10.15, 11.15, 12.05, 15.35, 16.75, 17.65, 18.85],
    [1.15, 2.05, 2.95, 3.85, 4.75, 8.65, 9.85, 10.45, 11.65, 15.65, 16.55, 17.45, 18.35],
    [1.65, 2.45, 3.35, 4.35, 5.25, 8.45, 9.15, 10.85, 12.15, 15.15, 16.05, 17.05, 17.85],
    [1.35, 2.15, 3.15, 4.15, 5.05, 8.05, 8.95, 9.95, 11.25, 11.95, 15.35, 16.35, 17.35, 18.35],
    [1.75, 2.55, 3.55, 4.55, 8.35, 9.45, 10.35, 11.65, 15.75, 16.75, 17.75],
    [1.55, 2.15, 3.05, 4.05, 4.95, 8.55, 9.75, 10.85, 12.05, 15.25, 16.15, 17.25, 18.15],
    [1.25, 2.75, 3.45, 4.35, 8.15, 9.05, 10.15, 11.45, 15.45, 16.45, 17.65],
    [1.65, 2.55, 3.55, 4.55, 8.75, 9.55, 10.95, 11.75, 15.85, 16.85, 17.85, 18.45],
    [1.45, 2.15, 3.25, 4.15, 5.05, 8.35, 9.15, 10.05, 11.25, 15.35, 16.45, 17.45, 18.15],
    [0.95, 1.85, 2.75, 3.85, 4.75, 5.45, 8.65, 9.45, 10.55, 11.55, 12.05, 15.65, 16.55, 17.65, 18.75, 19.65],
    [0.25, 1.35, 2.45, 3.35, 4.25, 5.25, 7.95, 9.05, 10.15, 11.15, 12.15, 14.75, 15.45, 16.65, 17.45, 18.35, 19.15],
    [0.65, 1.55, 2.55, 3.45, 4.35, 5.35, 6.25, 7.45, 8.45, 9.35, 10.75, 11.75, 12.75, 13.85, 15.05, 16.05, 17.05, 18.05, 18.85, 19.75],
    [0.15, 1.05, 1.95, 2.95, 3.85, 4.75, 5.55, 6.45, 7.65, 8.75, 9.75, 10.45, 11.25, 12.35, 13.45, 14.25, 15.25, 16.15, 17.55, 18.45, 19.45],
    [0.55, 1.45, 2.45, 3.35, 4.15, 5.05, 6.05, 6.95, 7.95, 9.15, 10.05, 11.35, 12.35, 13.25, 14.35, 15.65, 16.55, 17.45, 18.25, 19.25],
    [0.15, 0.95, 1.85, 2.85, 3.65, 4.55, 5.45, 6.35, 7.35, 8.35, 9.05, 9.85, 10.95, 11.85, 12.85, 13.75, 14.95, 15.95, 16.85, 17.95, 18.95, 19.75],
    [0.45, 1.25, 2.15, 3.15, 4.05, 4.95, 5.85, 6.75, 7.85, 8.85, 10.25, 11.25, 12.25, 13.35, 14.35, 15.35, 16.35, 17.35, 18.35, 19.25],
    [0.75, 1.65, 2.55, 3.45, 4.35, 5.25, 6.25, 7.15, 8.25, 9.15, 10.65, 11.65, 12.85, 13.85, 14.95, 15.95, 16.75, 17.65, 18.65, 19.55],
    [0.35, 1.15, 2.05, 2.95, 3.85, 4.75, 5.65, 6.55, 7.55, 8.45, 11.05, 12.15, 13.25, 14.35, 15.25, 16.25, 17.15, 18.05, 19.05, 19.85],
    [0.85, 1.55, 2.45, 3.35, 4.25, 5.15, 6.05, 7.05, 7.95, 10.95, 11.45, 12.55, 13.65, 14.65, 15.65, 16.55, 17.55, 18.45, 19.35],
    [0.35, 1.05, 1.95, 2.85, 3.75, 4.65, 5.55, 6.45, 7.25, 8.15, 11.05, 11.95, 13.05, 14.15, 15.05, 16.05, 16.95, 17.85, 18.85, 19.75],
]
B_BLOB_SPECKS = [(2.7, 1.7), (3.1, 1.3), (3.5, 1.0), (2.9, 0.9), (3.3, 1.7), (2.5, 1.2), (3.0, 0.75), (2.85, 1.45), (3.4, 1.4), (2.6, 1.5), (3.65, 1.3), (3.2, 0.95), (3.55, 0.75), (2.75, 1.1), (3.0, 1.85),
                 (17.0, 1.2), (17.4, 0.9), (16.8, 1.5), (17.6, 1.5), (17.2, 0.6), (16.6, 1.0), (17.3, 1.65), (17.7, 1.1), (16.9, 0.85), (16.5, 1.35),
                 (6.3, -1.0), (6.7, -1.4), (6.5, -1.8), (6.1, -1.3), (7.0, -1.1), (6.85, -0.8), (6.35, -1.55), (7.1, -1.55), (5.9, -1.05),
                 (13.5, -0.9), (13.2, -1.5), (13.8, -1.3), (13.0, -1.0), (13.6, -1.7), (0.3, -1.1), (0.6, -1.3), (0.2, -1.5), (19.6, -1.2), (19.3, -1.4), (19.8, -0.9), (19.7, -1.55)]
D_BLOB_SPECKS = [(2.6, 1.7), (3.3, 1.4), (2.8, 0.9), (3.6, 1.0), (3.9, 1.8), (16.5, 1.9), (17.0, 1.6), (17.4, 1.2), (16.4, 1.2), (16.9, 0.7), (17.6, 1.8), (16.2, 1.5), (17.1, 1.0), (17.8, 1.35), (16.7, 1.35), (17.25, 1.95), (16.6, 0.95), (17.5, 0.85),
                 (6.0, -1.0), (6.5, -0.6), (6.9, -1.3), (5.6, -1.5), (6.2, -1.7), (7.0, -1.9), (6.4, -1.2), (5.9, -2.0), (7.2, -1.0), (6.6, -1.55), (5.8, -1.25), (7.3, -1.5), (6.75, -0.9), (6.15, -0.75),
                 (13.1, -0.8), (13.7, -0.5), (14.2, -1.1), (13.4, -1.4), (12.9, -1.7), (13.9, -1.8), (13.5, -2.0), (12.7, -1.2), (14.4, -1.6), (13.25, -1.05), (13.8, -1.05), (14.1, -1.45), (13.05, -1.95), (13.55, -0.85),
                 (9.5, 1.6), (10.2, 1.2), (9.8, 0.8), (10.4, 1.8), (9.3, 1.1)]

# ========== where each panel sits in the page (pixels) ==========
PANELS = [
    dict(left=449, right=1820, top=228, bottom=664, xr=[-0.19, 20.27], yr=[-3.28, 3.25], cb=(1863, 1922), layer="above traces"),
    dict(left=2342, right=3715, top=221, bottom=658, xr=[-0.21, 20.25], yr=[-3.29, 3.29], cb=(3758, 3816), layer="below traces"),
    dict(left=449, right=1820, top=1006, bottom=1442, xr=[-0.19, 20.27], yr=[-3.28, 3.28], cb=(1863, 1922), layer="above traces"),
    dict(left=2342, right=3715, top=1000, bottom=1435, xr=[-0.21, 20.25], yr=[-3.28, 3.26], cb=(3758, 3816), layer="below traces"),
    dict(left=449, right=1820, top=1757, bottom=2195, xr=[-0.19, 20.27], yr=[-3.27, 3.26], cb=(1863, 1922), layer="below traces"),
    dict(left=2342, right=3715, top=1757, bottom=2193, xr=[-0.21, 20.25], yr=[-3.25, 3.25], cb=(3758, 3816), layer="above traces"),
]

W = PAGE_W - 2 * BODY
H = PAGE_H - 2 * BODY


def px_x(px):
    return (px - BODY) / W


def px_y(px):
    return 1 - (px - BODY) / H


fig = go.Figure()


def ax_names(i):
    return f"x{i}", f"y{i}"


def add_fill(i, pts, color, shape="spline"):
    xs = [p[0] for p in pts] + [pts[0][0]]
    ys = [p[1] for p in pts] + [pts[0][1]]
    xa, ya = ax_names(i)
    fig.add_trace(go.Scatter(x=xs, y=ys, xaxis=xa, yaxis=ya, mode="lines", fill="toself", fillcolor=color,
                             line=dict(color=color, width=1, shape=shape, smoothing=1.2), hoverinfo="skip", showlegend=False))


def add_line(i, pts, color, width, dash="solid", shape="spline"):
    xa, ya = ax_names(i)
    fig.add_trace(go.Scatter(x=[p[0] for p in pts], y=[p[1] for p in pts], xaxis=xa, yaxis=ya, mode="lines",
                             line=dict(color=color, width=width, shape=shape, dash=dash), hoverinfo="skip", showlegend=False))


def add_dots(i, pts, color, size, symbol="circle", line_w=0):
    xa, ya = ax_names(i)
    fig.add_trace(go.Scatter(x=[p[0] for p in pts], y=[p[1] for p in pts], xaxis=xa, yaxis=ya, mode="markers",
                             marker=dict(color=color, size=size, symbol=symbol, line=dict(color=color, width=line_w)),
                             hoverinfo="skip", showlegend=False))


def add_labels(i, xs, ys, texts, colors):
    xa, ya = ax_names(i)
    fig.add_trace(go.Scatter(x=xs, y=ys, xaxis=xa, yaxis=ya, mode="text", text=texts,
                             textfont=dict(family="Liberation Sans", size=58, color=colors), textposition="middle center",
                             hoverinfo="skip", showlegend=False))


def add_box(i, x0, x1, y0, y1, color):
    add_fill(i, [(x0, y0), (x1, y0), (x1, y1), (x0, y1)], color, shape="linear")


def add_tf_background(i):
    add_box(i, 0, 20, -3.4, 3.4, DARK)
    add_fill(i, TF_GAP_TOP, "white", shape="linear")
    add_fill(i, TF_GAP_BOT, "white", shape="linear")
    groups = [[], [], [], []]
    for ys, rows in ((SPECK_ROW_Y, SPECK_ROW_X), (SPECK2_ROW_Y, SPECK2_ROW_X)):
        for r, (yv, xs) in enumerate(zip(ys, rows)):
            for c, xv in enumerate(xs):
                groups[(r + 2 * c + c // 3) % 4].append((xv, yv))
    add_dots(i, groups[0], "white", 7)
    add_dots(i, groups[1], "white", 5)
    add_dots(i, groups[2], "white", 8, "line-ne", 3)
    add_dots(i, groups[3], "white", 8, "line-nw", 3)
    add_dots(i, TF_CLUMPS, "white", 10)
    for s in TF_STREAKS_STRONG:
        add_line(i, s, "white", 4, "30px,3px,12px,3px", "linear")
    for s in TF_STREAK_CORES:
        add_line(i, s, "white", 8, "solid", "linear")
    for s in TF_STREAKS_WEAK:
        add_line(i, s, "white", 3, "9px,7px")


# ---------- 1: r = 0.90, t0 ----------
add_box(1, 0, 20, -3.04, 3.04, DARK)
for pts, c in zip(A_SHAPES, A_COLORS):
    add_fill(1, pts, c)
add_labels(1, A_LABEL_X, A_LABEL_Y, A_LABEL_TEXT, A_LABEL_COLORS)

# ---------- 2: r = 0.90, tf ----------
add_tf_background(2)
for pts, c in zip(B_SHAPES, B_COLORS):
    add_fill(2, pts, c)
add_dots(2, B_BLOB_SPECKS, "white", 5)

# ---------- 3: r = 1.25, t0 ----------
add_box(3, 0, 20, -3.06, 3.07, DARK)
for pts, c in zip(C_SHAPES, C_COLORS):
    add_fill(3, pts, c)
add_labels(3, C_LABEL_X, C_LABEL_Y, C_LABEL_TEXT, C_LABEL_COLORS)

# ---------- 4: r = 1.25, tf ----------
add_tf_background(4)
for pts, c in zip(D_SHAPES, D_COLORS):
    add_fill(4, pts, c)
add_dots(4, D_BLOB_SPECKS, "white", 5)

# ---------- 5: r = 2.0, t0 ----------
add_box(5, 0, 20, -3.4, 3.4, C5[0])
add_fill(5, E_GAP_TOP, "white", shape="linear")
add_fill(5, E_GAP_BOT, "white", shape="linear")
for s in E_WHITE_LINES:
    add_line(5, s, "white", 3)
for pts, c in zip(E_SHAPES, E_COLORS):
    add_fill(5, pts, c)
add_dots(5, E_DOTS_TEAL, C5[3], 13)
add_dots(5, E_DOTS_DARK, C5[4], 13)
add_dots(5, E_DOTS_BLUE, C5[2], 13)
add_dots(5, E_DOTS_LILAC, C5[1], 11)
add_line(5, E_WHITE_LINES[5], "white", 3)
add_labels(5, E_LABEL_X, E_LABEL_Y, E_LABEL_TEXT, E_LABEL_COLORS)

# ---------- 6: r = 2.0, tf ----------
add_box(6, 0, 20, -3.1, 3.06, C5[0])
for pts, c in zip(F_SHAPES, F_COLORS):
    add_fill(6, pts, c)
add_dots(6, F_DOTS_DARK, C5[4], 13)
add_dots(6, F_DOTS_TEAL, C5[3], 12)
add_dots(6, F_DOTS_BLUE, C5[2], 11)
add_dots(6, F_DOTS_LILAC, C5[1], 10)
for s in F_WHITE_LINES:
    add_line(6, s, "white", 3)

# ========== axes ==========
layout = {}
tick_font = dict(family="Liberation Sans", size=55, color=TXT)
cb_font = dict(family="Liberation Sans", size=52, color=TXT)
title_font = dict(family="Liberation Sans", size=62, color=TXT)
for n, p in enumerate(PANELS, start=1):
    layout[f"xaxis{n}"] = dict(domain=[px_x(p["left"]), px_x(p["right"])], range=p["xr"], anchor=f"y{n}", automargin=False,
                               tickmode="array", tickvals=[0, 5, 10, 15, 20], ticks="inside", ticklen=12, tickwidth=2, tickcolor="#444444",
                               showline=True, linecolor="#555555", linewidth=3, mirror=True, showgrid=False, zeroline=False, layer=p["layer"],
                               tickfont=tick_font, ticklabelstandoff=4,
                               title=dict(text="x [km]", font=title_font, standoff=22))
    layout[f"yaxis{n}"] = dict(domain=[px_y(p["bottom"]), px_y(p["top"])], range=p["yr"], anchor=f"x{n}", automargin=False,
                               tickmode="array", tickvals=[-2, 0, 2], ticktext=["-2", "0", "2"], ticks="inside", ticklen=12, tickwidth=2, tickcolor="#444444",
                               showline=True, linecolor="#555555", linewidth=3, mirror=True, showgrid=False, zeroline=False, layer=p["layer"],
                               tickfont=tick_font, ticklabelstandoff=2,
                               title=dict(text="y [km]", font=title_font, standoff=17))

# ========== colourbars as small heatmaps with their own axes ==========
CB_SETS = [
    (CB1_LABELS, CB1_POS, 0),
    (CB1_LABELS, CB1_POS, 1),
    (CB2_LABELS, CB2_POS, 2),
    (CB2_LABELS, CB2_POS, 3),
    (CB3_LABELS, CB3_POS, 4),
    (CB3_LABELS, CB3_POS, 5),
]
pu_scale = [[k / 8, c] for k, c in enumerate(PU_STOPS)]
for labels, pos, k in CB_SETS:
    n = 7 + k
    p = PANELS[k]
    if k < 4:
        fig.add_trace(go.Heatmap(x=[0, 1], y=CB_LEVELS, z=[[v, v] for v in CB_LEVELS], colorscale=pu_scale, zmin=0, zmax=1, zsmooth="best",
                                 showscale=False, hoverinfo="skip", xaxis=f"x{n}", yaxis=f"y{n}"))
    else:
        fig.add_trace(go.Heatmap(x=[0], y=CB3_POS, z=[[0], [1], [2], [3], [4]], colorscale=[[j / 4, c] for j, c in enumerate(C5)], zmin=0, zmax=4,
                                 showscale=False, hoverinfo="skip", xaxis=f"x{n}", yaxis=f"y{n}"))
    layout[f"xaxis{n}"] = dict(domain=[px_x(p["cb"][0]), px_x(p["cb"][1])], range=[0, 1] if k < 4 else [-0.5, 0.5], anchor=f"y{n}", automargin=False,
                               showticklabels=False, ticks="", showgrid=False, zeroline=False, showline=True, linecolor="#777777", linewidth=2, mirror=True)
    layout[f"yaxis{n}"] = dict(domain=[px_y(p["bottom"]), px_y(p["top"])], range=[0, 1], anchor=f"x{n}", side="right", automargin=False,
                               tickmode="array", tickvals=pos, ticktext=labels, ticks="inside", ticklen=8, tickwidth=2, tickcolor="#555555",
                               showline=True, linecolor="#777777", linewidth=2, mirror=True, showgrid=False, zeroline=False,
                               tickfont=cb_font, ticklabelstandoff=2)

# ========== headers and row labels ==========
HEAD_X = [1182, 3076]
HEAD_Y = [62, 60]
HEAD_TEXT = ["<b>t<sub>0</sub></b>", "<b>t<sub>f</sub></b>"]
ROW_TEXT = ["r = 0.90", "r = 1.25", "r = 2.0"]
ROW_Y = [460, 1223, 1983]
notes = []
for hx, hy, ht in zip(HEAD_X, HEAD_Y, HEAD_TEXT):
    notes.append(dict(x=px_x(hx), y=px_y(hy), xref="paper", yref="paper", text=ht, showarrow=False,
                      font=dict(family="Liberation Sans", size=78, color="black"), xanchor="center", yanchor="middle"))
for rt, ry in zip(ROW_TEXT, ROW_Y):
    notes.append(dict(x=px_x(138), y=px_y(ry), xref="paper", yref="paper", text=f"<b>{rt}</b>", showarrow=False,
                      font=dict(family="Liberation Sans", size=60, color="black"), xanchor="center", yanchor="middle"))

fig.update_layout(width=W, height=H, margin=dict(l=0, r=0, t=0, b=0, autoexpand=False), paper_bgcolor="white", plot_bgcolor="white",
                  showlegend=False, annotations=notes, **layout)

fig.write_html("out.html")
